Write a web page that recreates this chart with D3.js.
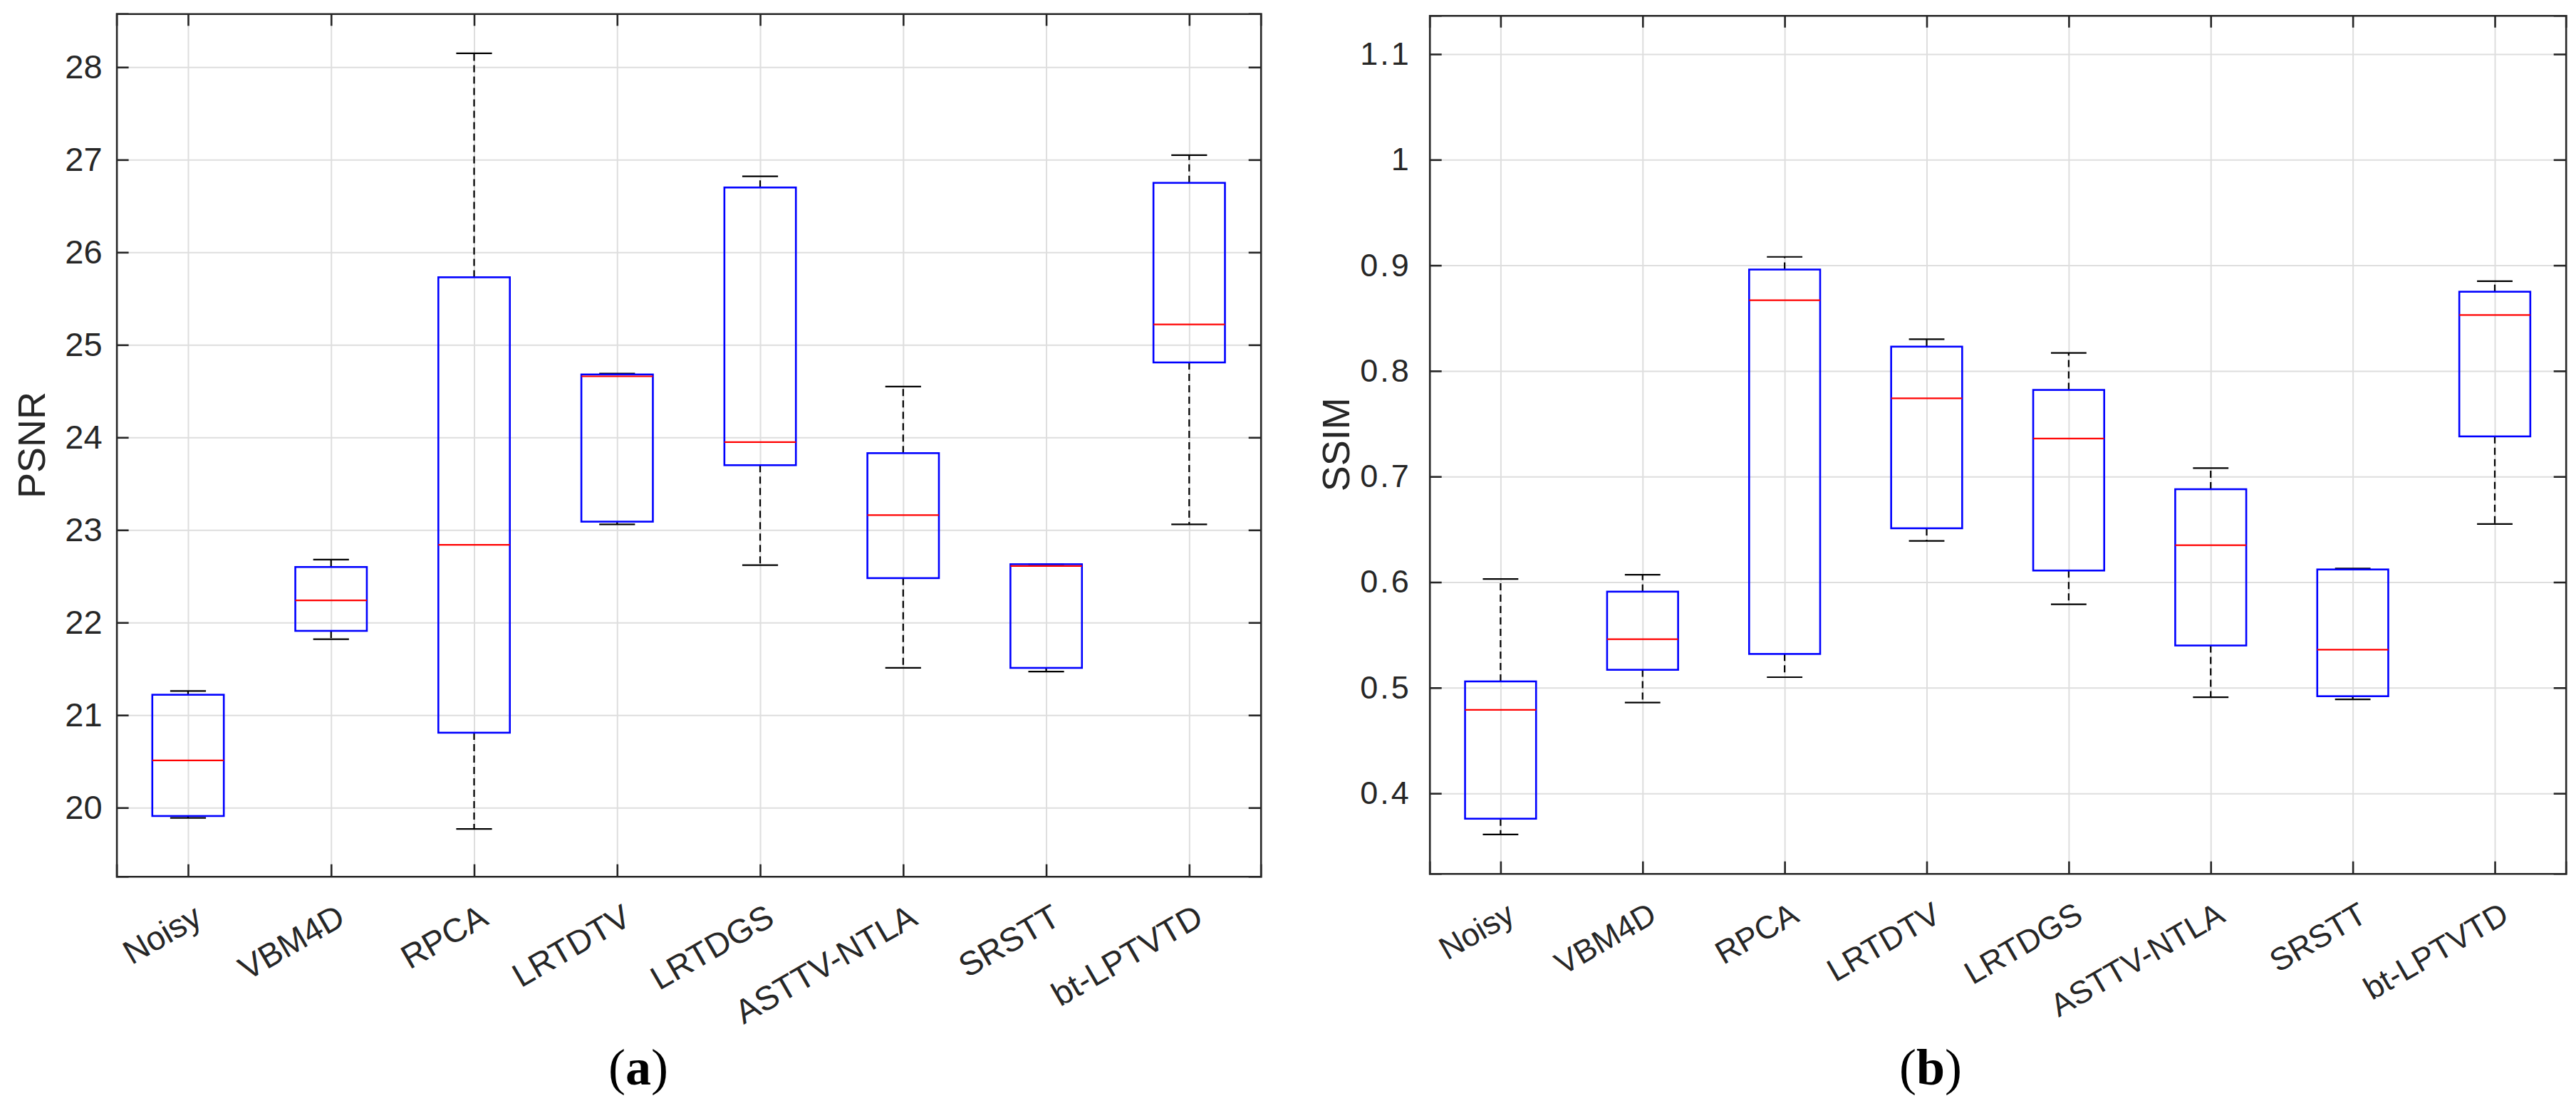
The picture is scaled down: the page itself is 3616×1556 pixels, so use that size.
<html lang="en">
  <head>
    <meta charset="utf-8">
    <title>PSNR / SSIM boxplots</title>
    <script src="https://d3js.org/d3.v7.min.js"></script>
    <style>
      body { margin: 0; background: #fff; }
      svg { display: block; }
    </style>
  </head>
  <body>
    <div id="viz"></div>
    <script type="text/javascript">
    // method names (x categories)
    var methods = ["Noisy", "VBM4D", "RPCA", "LRTDTV", "LRTDGS", "ASTTV-NTLA", "SRSTT", "bt-LPTVTD"];

    // PSNR box stats
    var psnrLow  = [19.89, 21.82, 19.77, 23.06, 22.62, 21.51, 21.47, 23.06];
    var psnrQ1   = [19.91, 21.91, 20.81, 23.09, 23.70, 22.48, 21.51, 24.81];
    var psnrMed  = [20.51, 22.24, 22.84, 24.66, 23.95, 23.16, 22.61, 25.22];
    var psnrQ3   = [21.22, 22.60, 25.73, 24.68, 26.70, 23.83, 22.63, 26.75];
    var psnrHigh = [21.26, 22.68, 28.15, 24.69, 26.82, 24.55, 22.63, 27.05];
    var psnrTicks = [20, 21, 22, 23, 24, 25, 26, 27, 28];

    // SSIM box stats
    var ssimLow  = [0.361, 0.486, 0.510, 0.639, 0.579, 0.491, 0.489, 0.655];
    var ssimQ1   = [0.376, 0.517, 0.532, 0.651, 0.611, 0.540, 0.492, 0.738];
    var ssimMed  = [0.479, 0.546, 0.867, 0.774, 0.736, 0.635, 0.536, 0.853];
    var ssimQ3   = [0.506, 0.591, 0.896, 0.823, 0.782, 0.688, 0.612, 0.875];
    var ssimHigh = [0.603, 0.607, 0.908, 0.830, 0.817, 0.708, 0.613, 0.885];
    var ssimTicks = [0.4, 0.5, 0.6, 0.7, 0.8, 0.9, 1, 1.1];

    var W = 3616, H = 1556;
    var axisColor = "#262626";
    var fontFam = "'Liberation Sans', Arial, Helvetica, sans-serif";

    var svg = d3.select("#viz")
        .append("svg")
        .attr("width", W)
        .attr("height", H);

    svg.append("rect").attr("width", W).attr("height", H).attr("fill", "#fff");

    function drawPanel(p) {
      var g = svg.append("g");

      var x = d3.scalePoint()
          .domain(methods)
          .range([p.left, p.right])
          .padding(0.5);
      var step = x.step();

      var y = d3.scaleLinear()
          .domain(p.domain)
          .range([p.bottom, p.top]);

      // grid lines
      g.append("g")
          .attr("transform", "translate(0," + p.bottom + ")")
          .call(d3.axisBottom(x).tickSize(-(p.bottom - p.top)).tickFormat(""))
          .call(function(a) { a.select(".domain").remove(); })
          .selectAll("line")
          .attr("stroke", "#dedede")
          .attr("stroke-width", 2);
      g.append("g")
          .attr("transform", "translate(" + p.left + ",0)")
          .call(d3.axisLeft(y).tickValues(p.ticks).tickSize(-(p.right - p.left)).tickFormat(""))
          .call(function(a) { a.select(".domain").remove(); })
          .selectAll("line")
          .attr("stroke", "#dedede")
          .attr("stroke-width", 2);

      var rows = methods.map(function(m, i) {
        return {m: m, lo: p.low[i], q1: p.q1[i], med: p.med[i], q3: p.q3[i], hi: p.high[i]};
      });

      var box = g.selectAll(".bx").data(rows).enter().append("g").attr("class", "bx");

      // whiskers (dashed)
      box.append("line")
          .attr("x1", function(d) { return x(d.m); })
          .attr("x2", function(d) { return x(d.m); })
          .attr("y1", function(d) { return y(d.q3); })
          .attr("y2", function(d) { return y(d.hi); })
          .attr("stroke", "#000").attr("stroke-width", 2.2)
          .attr("stroke-dasharray", "10,6");
      box.append("line")
          .attr("x1", function(d) { return x(d.m); })
          .attr("x2", function(d) { return x(d.m); })
          .attr("y1", function(d) { return y(d.q1); })
          .attr("y2", function(d) { return y(d.lo); })
          .attr("stroke", "#000").attr("stroke-width", 2.2)
          .attr("stroke-dasharray", "10,6");
      // caps
      ["hi", "lo"].forEach(function(k) {
        box.append("line")
            .attr("x1", function(d) { return x(d.m) - step * 0.125; })
            .attr("x2", function(d) { return x(d.m) + step * 0.125; })
            .attr("y1", function(d) { return y(d[k]); })
            .attr("y2", function(d) { return y(d[k]); })
            .attr("stroke", "#000").attr("stroke-width", 2.2);
      });
      // boxes
      box.append("rect")
          .attr("x", function(d) { return x(d.m) - step * 0.25; })
          .attr("width", step * 0.5)
          .attr("y", function(d) { return y(d.q3); })
          .attr("height", function(d) { return y(d.q1) - y(d.q3); })
          .attr("fill", "none")
          .attr("stroke", "#0000ff").attr("stroke-width", 2.6);
      // medians
      box.append("line")
          .attr("x1", function(d) { return x(d.m) - step * 0.25; })
          .attr("x2", function(d) { return x(d.m) + step * 0.25; })
          .attr("y1", function(d) { return y(d.med); })
          .attr("y2", function(d) { return y(d.med); })
          .attr("stroke", "#ff0000").attr("stroke-width", 2.2);

      // axes (mirrored ticks on all four sides, pointing inward)
      var left = g.append("g")
          .attr("transform", "translate(" + p.left + ",0)")
          .call(d3.axisLeft(y).tickValues(p.ticks).tickSize(-17).tickPadding(p.tickGap)
                .tickFormat(function(v) { return d3.format("~g")(v); }));
      var right = g.append("g")
          .attr("transform", "translate(" + p.right + ",0)")
          .call(d3.axisRight(y).tickValues(p.ticks).tickSize(-17).tickFormat(""));
      var top = g.append("g")
          .attr("transform", "translate(0," + p.top + ")")
          .call(d3.axisTop(x).tickSize(-17).tickFormat(""));
      var bottom = g.append("g")
          .attr("transform", "translate(0," + p.bottom + ")")
          .call(d3.axisBottom(x).tickSize(-17));

      [left, right, top, bottom].forEach(function(a) {
        a.select(".domain").attr("stroke", axisColor).attr("stroke-width", 2.6);
        a.selectAll(".tick line").attr("stroke", axisColor).attr("stroke-width", 2.6);
        a.selectAll("text")
            .attr("fill", axisColor)
            .style("font-family", fontFam)
            .style("font-size", p.fontSize + "px");
      });
      left.selectAll("text").style("letter-spacing", p.spacing + "px");
      // rotated category labels
      bottom.selectAll(".tick text")
          .attr("y", null)
          .attr("dy", null)
          .attr("transform", "translate(22,66) rotate(-30)")
          .style("text-anchor", "end");

      // y label
      g.append("text")
          .attr("transform", "translate(" + p.labelX + "," + ((p.top + p.bottom) / 2) + ") rotate(-90)")
          .attr("text-anchor", "middle")
          .attr("fill", axisColor)
          .style("font-family", fontFam)
          .style("font-size", "54px")
          .text(p.label);

      // panel letter
      var cap = g.append("text")
          .attr("x", p.capX)
          .attr("y", 1523)
          .attr("text-anchor", "middle")
          .attr("fill", "#000")
          .style("font-family", "'Liberation Serif', 'Times New Roman', serif")
          .style("font-size", "72px");
      cap.append("tspan").text("(");
      cap.append("tspan").style("font-weight", "bold").text(p.letter);
      cap.append("tspan").text(")");
    }

    drawPanel({
      left: 163.6, right: 1769.7, top: 19.3, bottom: 1230.7,
      domain: [19.258, 28.577], ticks: psnrTicks,
      low: psnrLow, q1: psnrQ1, med: psnrMed, q3: psnrQ3, high: psnrHigh,
      fontSize: 47, spacing: 0, tickGap: 20, label: "PSNR", labelX: 63,
      capX: 896, letter: "a"
    });

    drawPanel({
      left: 2006.7, right: 3601.7, top: 21.7, bottom: 1226.7,
      domain: [0.3241, 1.1366], ticks: ssimTicks,
      low: ssimLow, q1: ssimQ1, med: ssimMed, q3: ssimQ3, high: ssimHigh,
      fontSize: 45, spacing: 3, tickGap: 26, label: "SSIM", labelX: 1894,
      capX: 2710, letter: "b"
    });
    </script>
  </body>
</html>
